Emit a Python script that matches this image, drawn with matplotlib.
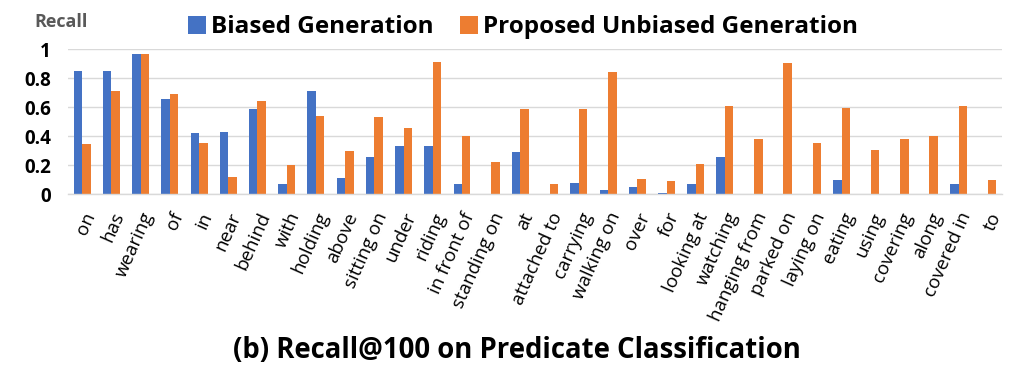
import numpy as np
import matplotlib
matplotlib.use("Agg")
import matplotlib.pyplot as plt

plt.rcParams['font.family'] = ['Open Sans', 'DejaVu Sans']

predicates = ["on", "has", "wearing", "of", "in", "near", "behind", "with", "holding",
              "above", "sitting on", "under", "riding", "in front of", "standing on", "at",
              "attached to", "carrying", "walking on", "over", "for", "looking at",
              "watching", "hanging from", "parked on", "laying on", "eating", "using",
              "covering", "along", "covered in", "to"]
biased = [0.85, 0.85, 0.97, 0.66, 0.42, 0.43, 0.59, 0.07, 0.71,
          0.11, 0.26, 0.33, 0.33, 0.07, 0.0, 0.29,
          0.0, 0.08, 0.03, 0.05, 0.01, 0.07,
          0.26, 0.0, 0.0, 0.0, 0.10, 0.0,
          0.0, 0.0, 0.07, 0.0]
unbiased = [0.345, 0.71, 0.97, 0.69, 0.35, 0.12, 0.64, 0.20, 0.54,
            0.30, 0.53, 0.455, 0.915, 0.40, 0.22, 0.59,
            0.07, 0.59, 0.845, 0.105, 0.09, 0.21,
            0.61, 0.38, 0.905, 0.35, 0.595, 0.305,
            0.38, 0.40, 0.61, 0.10]
yticks = [0, 0.2, 0.4, 0.6, 0.8, 1]
ytick_labels = ["0", "0.2", "0.4", "0.6", "0.8", "1"]

blue = "#4472C4"
orange = "#ED7D31"

fig = plt.figure(figsize=(10.24, 3.7), dpi=100)
ax = fig.add_axes([0.066, 0.475, 0.913, 0.392])

x = np.arange(len(predicates))
w = 0.29
ax.bar(x - w / 2, biased, w, color=blue, label="Biased Generation")
ax.bar(x + w / 2, unbiased, w, color=orange, label="Proposed Unbiased Generation")

ax.set_xlim(-0.5, len(predicates) - 0.5)
ax.set_ylim(0, 1)
ax.set_yticks(yticks)
ax.set_yticklabels(ytick_labels, fontsize=13.5, fontweight="bold")
ax.set_xticks(x)
ax.set_xticklabels(predicates, rotation=66, ha="right", rotation_mode="anchor", fontsize=13.5)
ax.tick_params(axis="both", length=0)
ax.tick_params(axis="y", pad=12)
ax.tick_params(axis="x", pad=11)

ax.grid(axis="y", color="#d9d9d9", linewidth=1)
ax.set_axisbelow(True)
for s in ["top", "right", "left"]:
    ax.spines[s].set_visible(False)
ax.spines["bottom"].set_color("#d9d9d9")
ax.spines["bottom"].set_linewidth(1)

fig.text(0.034, 0.94, "Recall", fontsize=13, fontweight="bold", color="#595959", va="center")

ax.legend(loc="center", bbox_to_anchor=(0.487, 1.15), ncol=2, frameon=False,
          prop={"size": 17.5, "weight": "bold"}, handlelength=0.75, handleheight=0.75,
          handletextpad=0.2, columnspacing=1.1)

fig.text(0.505, 0.053, "(b) Recall@100 on Predicate Classification", fontsize=19.8,
         fontweight="bold", ha="center", va="center")

fig.savefig("out.png", dpi=100)
